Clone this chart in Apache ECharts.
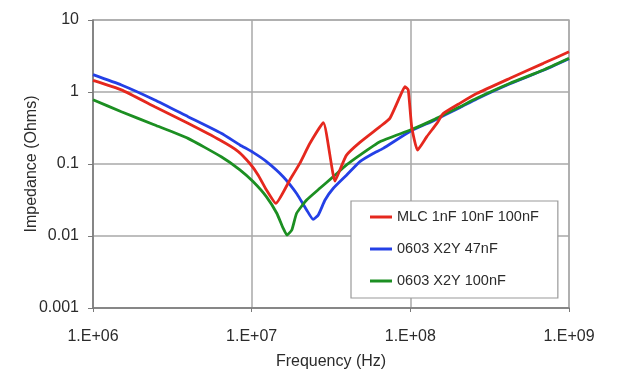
<!DOCTYPE html>
<html>
<head>
<meta charset="utf-8">
<script src="https://cdn.jsdelivr.net/npm/echarts@6/dist/echarts.min.js"></script>
<style>
  html, body { margin: 0; padding: 0; background: #fff; }
  #chart { width: 633px; height: 378px; }
</style>
</head>
<body>
<div id="chart"></div>
<script>
// impedance curves (frequency in Hz, impedance in Ohms)
var freqRed = [1e6, 1.51e6, 2.45e6, 3.97e6, 6.3e6, 8.2e6, 9.8e6, 1.1e7, 1.24e7, 1.42e7, 1.74e7, 2.01e7, 2.33e7, 2.83e7,
               3.35e7, 3.6e7, 3.96e7, 4.81e7, 6.43e7, 7.43e7, 8.59e7, 9.25e7, 9.7e7, 1.02e8, 1.11e8, 1.27e8, 1.47e8,
               1.61e8, 2.06e8, 2.62e8, 4.25e8, 6.89e8, 1e9];
var zRed = [1.45, 1.07, 0.625, 0.367, 0.215, 0.15, 0.1, 0.07, 0.0435, 0.0284, 0.06, 0.102, 0.194, 0.375,
            0.058, 0.083, 0.133, 0.2, 0.33, 0.43, 0.86, 1.19, 1.07, 0.33, 0.156, 0.24, 0.367,
            0.5, 0.7, 0.95, 1.55, 2.5, 3.63];

var freqBlue = [1e6, 1.51e6, 2.45e6, 3.97e6, 6.43e6, 8.43e6, 1.02e7, 1.24e7, 1.58e7, 1.92e7, 2.22e7, 2.44e7, 2.63e7,
                2.9e7, 3.27e7, 3.96e7, 4.81e7, 5.83e7, 6.75e7, 1e8, 1.4e8, 2.06e8, 2.62e8, 4.25e8, 6.89e8, 1e9];
var zBlue = [1.74, 1.25, 0.774, 0.454, 0.267, 0.184, 0.145, 0.108, 0.0667, 0.039, 0.023, 0.017, 0.0196,
             0.0316, 0.046, 0.07, 0.108, 0.14, 0.165, 0.285, 0.4, 0.61, 0.8, 1.3, 2.0, 2.9];

var freqGreen = [1e6, 1.51e6, 2.45e6, 3.97e6, 6.43e6, 8.43e6, 1.02e7, 1.24e7, 1.44e7, 1.58e7, 1.67e7, 1.79e7, 1.92e7,
                 2.22e7, 2.69e7, 3.27e7, 3.96e7, 4.81e7, 6.43e7, 1e8, 1.4e8, 2.06e8, 2.62e8, 4.25e8, 6.89e8, 1e9];
var zGreen = [0.78, 0.533, 0.348, 0.227, 0.126, 0.083, 0.057, 0.035, 0.0207, 0.0128, 0.0103, 0.0121, 0.0207,
              0.0316, 0.046, 0.0667, 0.097, 0.133, 0.204, 0.296, 0.41, 0.625, 0.817, 1.32, 2.02, 2.94];

var seriesNames = ['MLC 1nF 10nF 100nF', '0603 X2Y 47nF', '0603 X2Y 100nF'];
var seriesColors = ['#e5281e', '#2440e6', '#1c8f22'];

var xTickLabels = ['1.E+06', '1.E+07', '1.E+08', '1.E+09'];
var yTickLabels = ['0.001', '0.01', '0.1', '1', '10'];

function pairs(xs, ys) {
    return xs.map(function (x, i) { return [x, ys[i]]; });
}

var chart = echarts.init(document.getElementById('chart'));
var font = 'Liberation Sans, Arial, sans-serif';
var txt = '#2b2b2b';

function line(i, data, z) {
    return {name: seriesNames[i], type: 'line', data: data, showSymbol: false, smooth: 0.15, z: z,
            lineStyle: {width: 2.8, color: seriesColors[i]}, itemStyle: {color: seriesColors[i]}};
}

var option = {
    animation: false,
    backgroundColor: '#fff',
    grid: {left: 93, top: 20, right: 64, bottom: 70, show: true, borderColor: '#b4b4b4', borderWidth: 1.5},
    legend: {
        orient: 'vertical', left: 351, top: 201,
        padding: [8, 19, 9, 19], itemGap: 16,
        backgroundColor: '#fff', borderColor: '#9a9a9a', borderWidth: 1.2,
        icon: 'rect', itemWidth: 22, itemHeight: 3,
        textStyle: {fontFamily: font, fontSize: 14.5, color: txt, lineHeight: 16},
        data: seriesNames
    },
    xAxis: {
        type: 'log', logBase: 10, min: 1e6, max: 1e9,
        name: 'Frequency (Hz)', nameLocation: 'middle', nameGap: 46, nameMoveOverlap: false,
        nameTextStyle: {fontFamily: font, fontSize: 16, color: txt},
        axisLine: {lineStyle: {color: '#7a7a7a', width: 1.5}},
        axisTick: {show: true, inside: false, length: 4, lineStyle: {color: '#7a7a7a'}},
        splitLine: {show: true, lineStyle: {color: '#a8a8a8', width: 1.5}},
        axisLabel: {
            margin: 21, fontFamily: font, fontSize: 16, color: txt,
            formatter: function (v) { return xTickLabels[Math.round(Math.log10(v)) - 6]; }
        }
    },
    yAxis: {
        type: 'log', logBase: 10, min: 0.001, max: 10,
        name: 'Impedance (Ohms)', nameLocation: 'middle', nameGap: 53, nameMoveOverlap: false,
        nameTextStyle: {fontFamily: font, fontSize: 16, color: txt},
        axisLine: {show: true, lineStyle: {color: '#7a7a7a', width: 1.5}},
        axisTick: {show: true, length: 5, lineStyle: {color: '#7a7a7a'}},
        splitLine: {show: true, lineStyle: {color: '#a8a8a8', width: 1.5}},
        axisLabel: {
            margin: 14, fontFamily: font, fontSize: 16, color: txt,
            formatter: function (v) { return yTickLabels[Math.round(Math.log10(v)) + 3]; }
        }
    },
    series: [
        line(0, pairs(freqRed, zRed), 3),
        line(1, pairs(freqBlue, zBlue), 2),
        line(2, pairs(freqGreen, zGreen), 2)
    ]
};
chart.setOption(option);
</script>
</body>
</html>
